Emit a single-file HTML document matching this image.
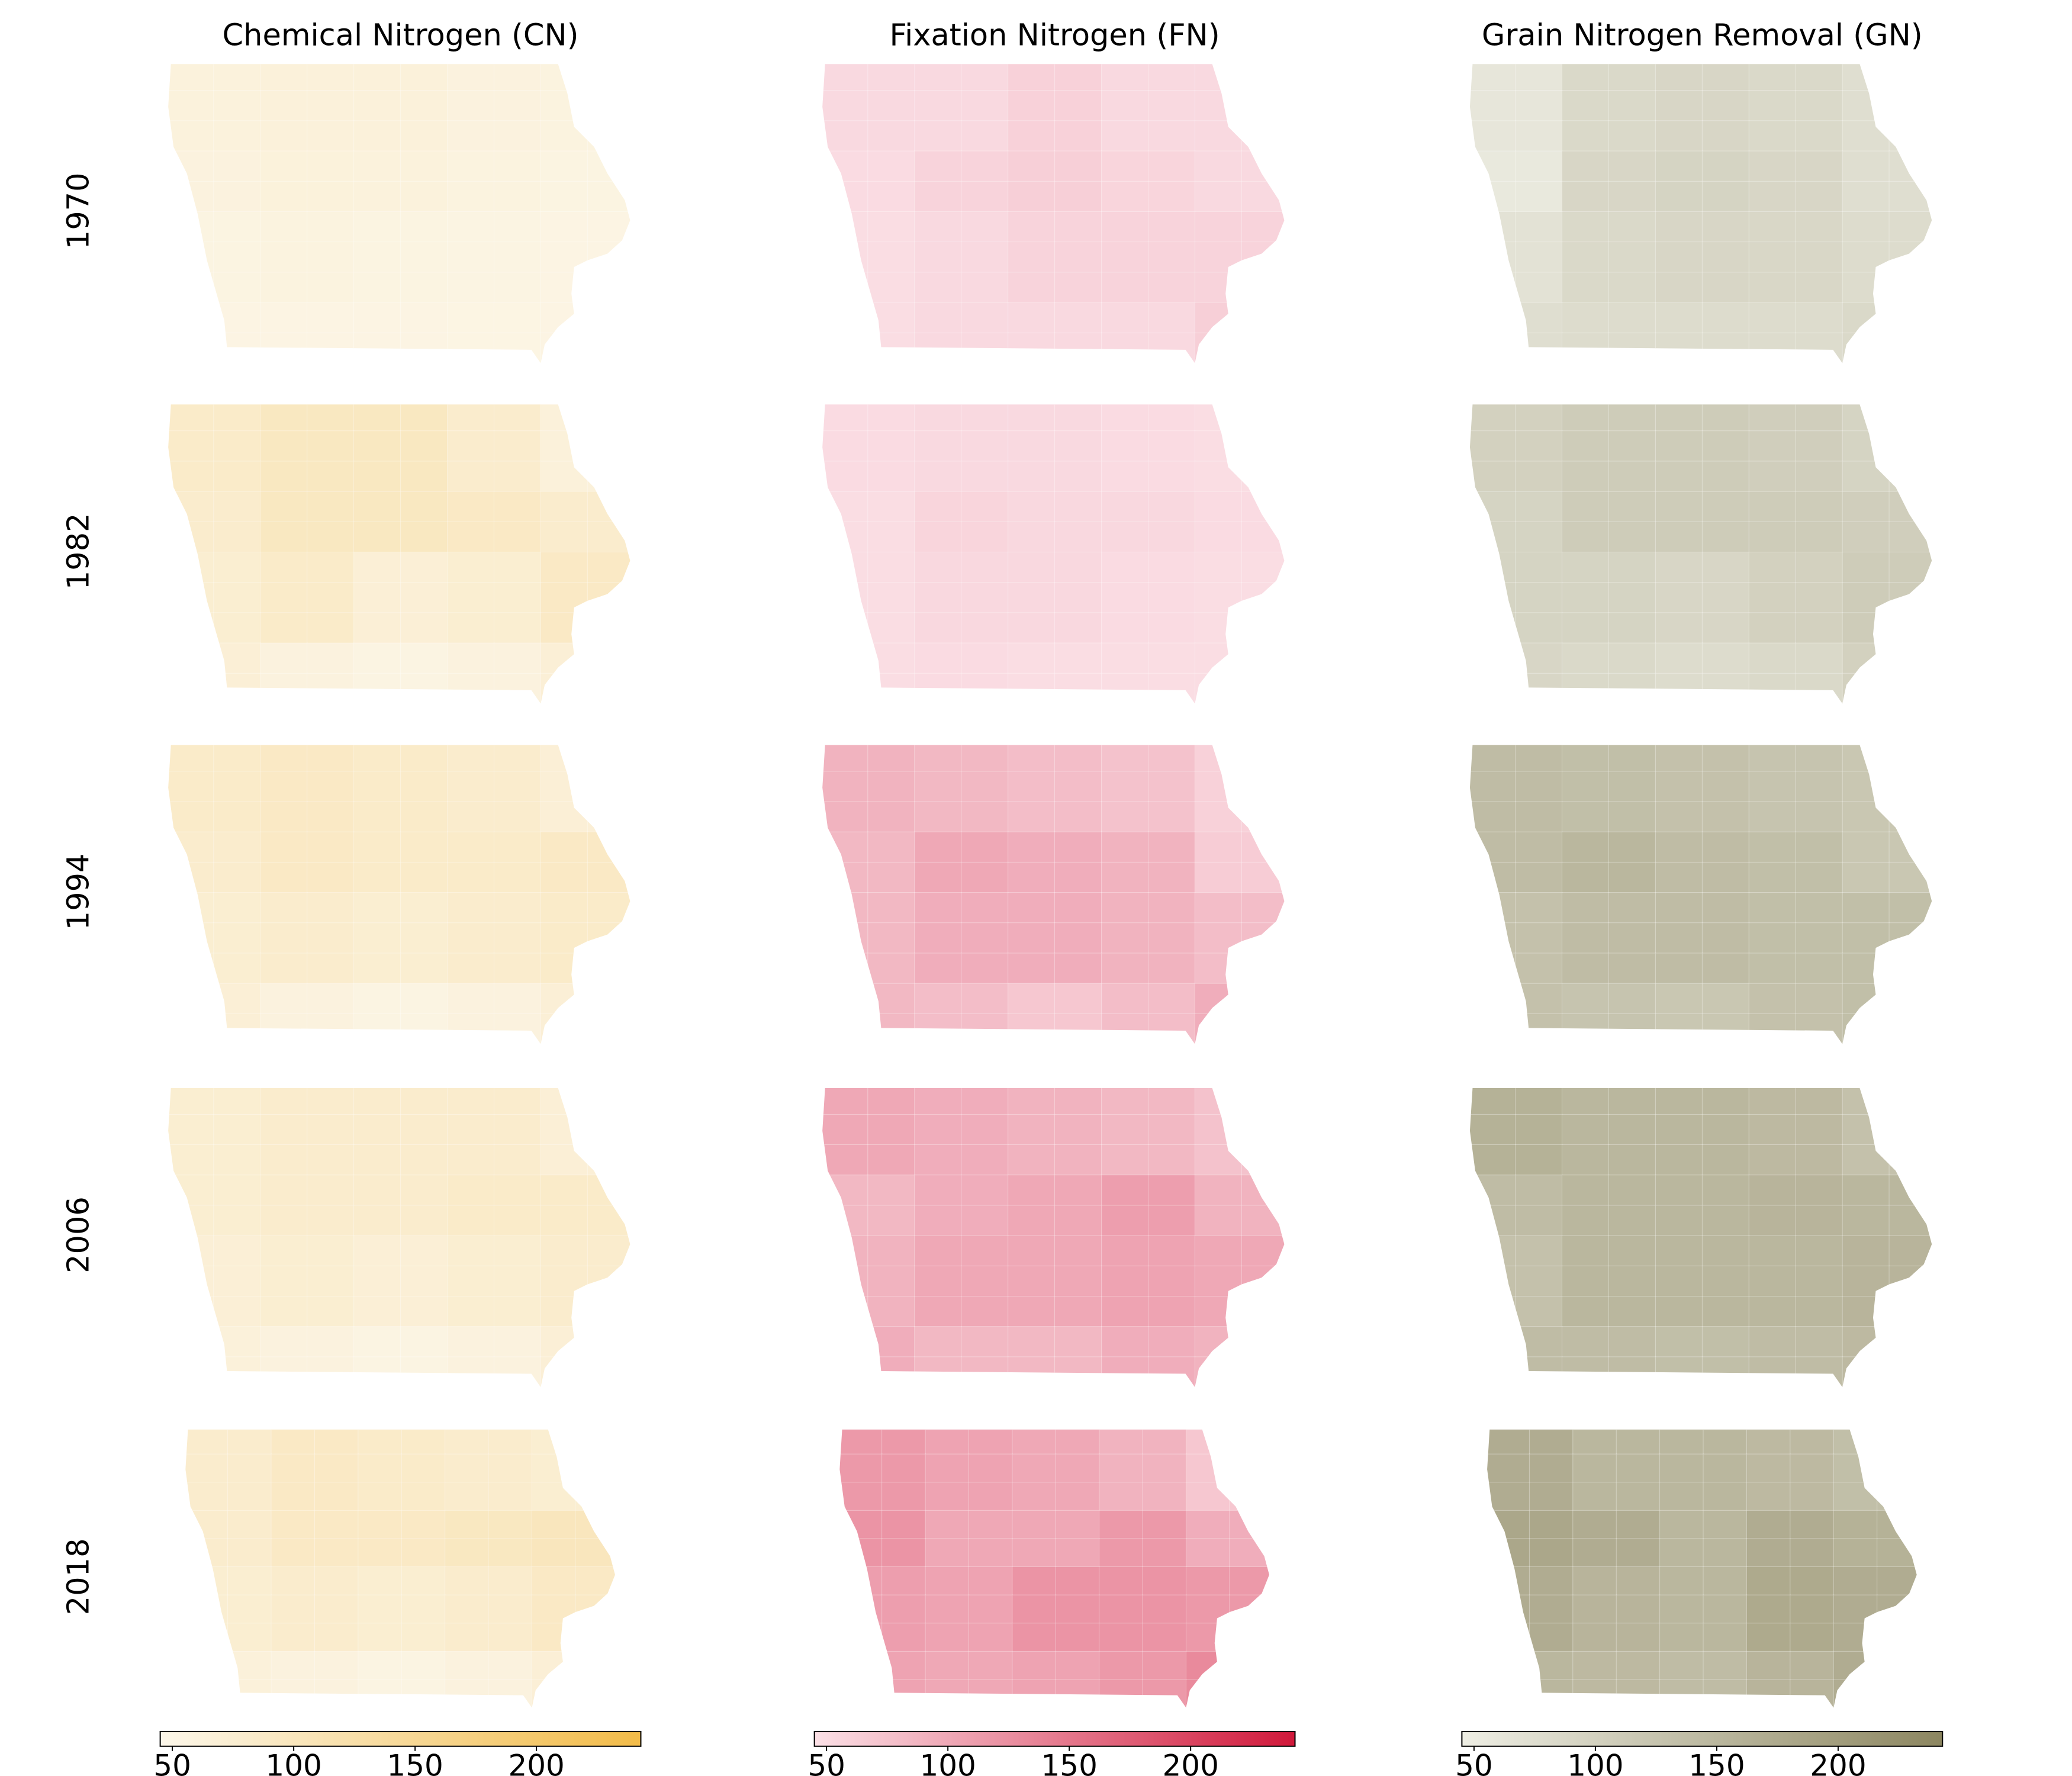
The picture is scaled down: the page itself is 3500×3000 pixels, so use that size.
<!DOCTYPE html>
<html><head><meta charset="utf-8">
<style>html,body{margin:0;padding:0;background:#fff}svg{display:block}text{font-family:"DejaVu Sans","Liberation Sans",sans-serif;fill:#000}</style>
</head><body>
<svg id="fig" width="3500" height="3000" viewBox="0 0 3500 3000" xmlns="http://www.w3.org/2000/svg"></svg>
<script>
const years = ["1970","1982","1994","2006","2018"];
const variables = ["Chemical Nitrogen (CN)","Fixation Nitrogen (FN)","Grain Nitrogen Removal (GN)"];
const tickValues = [50,100,150,200];
const cnValues = [
 [[62,65,65,60,58],[60,63,62,58,56],[56,58,56,55,54],[54,54,54,53,54]],
 [[85,95,95,80,65],[80,95,95,90,80],[75,85,70,75,90],[70,60,55,60,70]],
 [[85,90,85,80,70],[80,90,85,85,90],[75,80,75,80,85],[70,60,55,60,70]],
 [[75,80,80,80,70],[75,80,80,85,85],[70,75,70,75,80],[65,60,55,60,70]],
 [[80,90,85,80,75],[80,90,90,95,100],[75,80,75,80,90],[65,60,55,60,70]]
];
const fnValues = [
 [[52,52,60,52,52],[50,58,62,56,52],[48,52,58,58,58],[48,52,52,52,62]],
 [[50,52,52,50,48],[48,56,53,53,50],[48,53,53,50,48],[48,50,48,48,48]],
 [[90,85,80,75,60],[85,100,95,90,65],[85,95,95,90,80],[85,80,70,80,95]],
 [[100,95,90,85,75],[85,95,100,110,90],[90,100,100,105,100],[95,85,85,95,90]],
 [[115,105,100,90,70],[120,100,100,115,95],[110,105,120,120,115],[105,100,105,115,130]]
];
const gnValues = [
 [[60,85,90,85,75],[55,90,95,90,75],[68,85,90,88,80],[75,80,80,80,85]],
 [[100,110,110,105,95],[95,110,110,110,105],[95,95,90,100,110],[90,85,80,85,100]],
 [[140,135,130,125,120],[140,150,140,135,120],[130,140,140,135,135],[130,125,120,130,135]],
 [[160,150,150,145,130],[140,150,150,155,150],[130,150,150,150,155],[140,140,135,140,145]],
 [[170,150,150,145,135],[180,170,150,170,160],[170,155,150,175,170],[150,145,140,155,170]]
];
const allValues = [cnValues, fnValues, gnValues];
const vmin = 45, vmax = 243;
const cmaps = [["#fcf7ea","#f2bb48"],["#fbe0e6","#d0183a"],["#eeeee4","#8c8660"]];

const S = 3500/1552;
const svg = document.getElementById('fig');
const NS = "http://www.w3.org/2000/svg";
function mk(tag, attrs){const e=document.createElementNS(NS,tag);for(const k in attrs)e.setAttribute(k,attrs[k]);return e;}
function hex(h){return [1,3,5].map(i=>parseInt(h.substr(i,2),16));}
function color(ci,v){const t=Math.max(0,Math.min(1,(v-vmin)/(vmax-vmin)));const a=hex(cmaps[ci][0]),b=hex(cmaps[ci][1]);return "rgb("+a.map((x,i)=>Math.round(x+(b[i]-x)*t)).join(",")+")";}

const outlineRef=[[128,48],[418,48],[425,70],[430,95],[445,110],[455,130],[468,150],[472,165],[466,180],[455,190],[440,195],[430,200],[428,220],[430,235],[418,245],[408,258],[405,272],[398,262],[170,260],[168,240],[155,195],[148,160],[140,130],[130,110],[126,80]];
const outline=outlineRef.map(p=>[(p[0]-125)/350,(p[1]-45)/227]);

const colX=[125,615,1100], rowY=[45,300,555,812,1068];
const rowScale=[1,1,1,1,0.93];
const rowShiftX=[0,0,0,0,13];

variables.forEach((name,ci)=>{
  const t=mk('text',{x:(colX[ci]+175)*S,y:34*S,'font-size':51,'text-anchor':'middle'});
  t.textContent=name;
  
  
  svg.appendChild(t);
});
years.forEach((y,ri)=>{
  const cx=60*S, cy=(rowY[ri]+113)*S;
  const t=mk('text',{x:cx,y:cy,'font-size':51,'text-anchor':'middle','transform':`rotate(-90 ${cx} ${cy})`,'dominant-baseline':'middle'});
  t.textContent=y;
  
  
  svg.appendChild(t);
});

const defs=mk('defs',{});svg.appendChild(defs);
const NR=10,NC=10;
variables.forEach((name,ci)=>{
  years.forEach((yr,ri)=>{
    const mapW=350*S*rowScale[ri], mapH=227*S*rowScale[ri];
    const x0=(colX[ci]+rowShiftX[ri])*S,y0=rowY[ri]*S;
    const id='clip'+ci+'_'+ri;
    const cp=mk('clipPath',{id:id});
    cp.appendChild(mk('polygon',{points:outline.map(p=>(x0+p[0]*mapW)+","+(y0+p[1]*mapH)).join(" ")}));
    defs.appendChild(cp);
    const g=mk('g',{'clip-path':`url(#${id})`});
    
    
    const data=allValues[ci][ri];
    const cw=mapW/NC,chh=mapH/NR;
    for(let r=0;r<NR;r++)for(let c=0;c<NC;c++){
      const v=data[Math.min(3,Math.floor(r*4/NR))][Math.min(4,Math.floor(c*5/NC))];
      const rc=mk('rect',{x:x0+c*cw,y:y0+r*chh,width:cw+0.5,height:chh+0.5,fill:color(ci,v),stroke:'rgba(255,255,255,0.35)','stroke-width':1});
      
      
      g.appendChild(rc);
    }
    svg.appendChild(g);
  });
  const bx=(colX[ci]-5)*S, bw=360*S, by=1297*S, bh=11*S;
  const gid='grad'+ci;
  const lg=mk('linearGradient',{id:gid,x1:0,x2:1,y1:0,y2:0});
  lg.appendChild(mk('stop',{offset:0,'stop-color':cmaps[ci][0]}));
  lg.appendChild(mk('stop',{offset:1,'stop-color':cmaps[ci][1]}));
  defs.appendChild(lg);
  const bar=mk('rect',{x:bx,y:by,width:bw,height:bh,fill:`url(#${gid})`,stroke:'#000','stroke-width':2});
  
  
  svg.appendChild(bar);
  tickValues.forEach(v=>{
    const tx=bx+(v-vmin)/(vmax-vmin)*bw;
    const tk=mk('line',{x1:tx,x2:tx,y1:by+bh,y2:by+bh+8,stroke:'#000','stroke-width':2});
    
    
    svg.appendChild(tk);
    const tl=mk('text',{x:tx,y:by+bh+50,'font-size':50,'text-anchor':'middle'});
    tl.textContent=v;
    
    
    svg.appendChild(tl);
  });
});
</script>
</body></html>
